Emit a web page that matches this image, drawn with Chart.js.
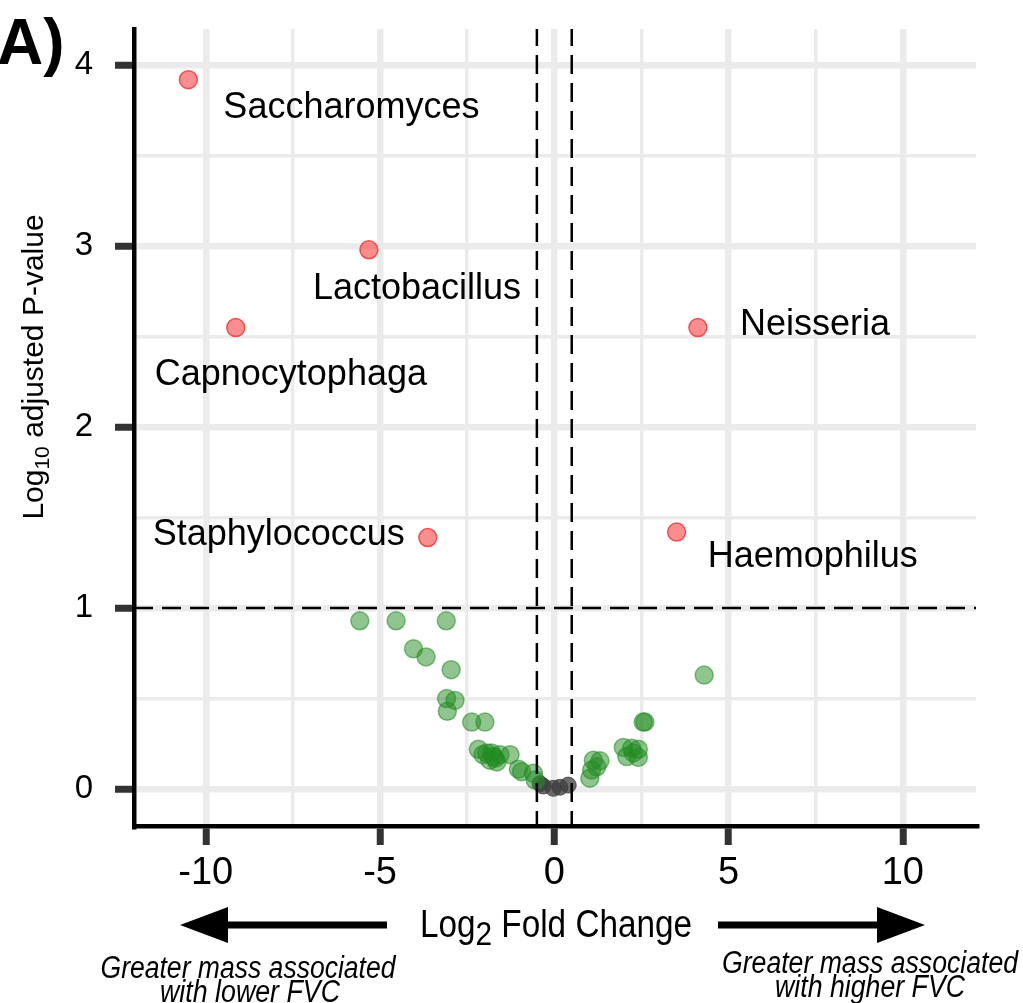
<!DOCTYPE html>
<html>
<head>
<meta charset="utf-8">
<script src="https://cdn.jsdelivr.net/npm/chart.js@4.4.1/dist/chart.umd.min.js"></script>
<style>
  html, body { margin: 0; padding: 0; background: #fff; }
  #wrap { width: 1023px; height: 1003px; position: relative; }
</style>
</head>
<body>
<div id="wrap"><canvas id="volcano" width="1023" height="1003"></canvas></div>
<script>
// genera passing the adjusted p-value cut-off
const sigGenus = ['Saccharomyces', 'Lactobacillus', 'Capnocytophaga', 'Staphylococcus', 'Neisseria', 'Haemophilus'];
const sigLogFC = [-10.5, -5.32, -9.14, -3.63, 4.12, 3.51];
const sigLogP = [3.92, 2.98, 2.55, 1.39, 2.55, 1.42];

// fold change past the cut-off but not significant
const trendLogFC = [-5.58, -4.54, -3.10, -4.04, -3.68, -2.96, -3.09, -2.85, -3.07, -2.37, -1.99,
  -2.18, -1.94, -1.75, -1.56, -1.27, -1.65, -1.85, -2.05, -1.80, -1.70, -1.03, -0.94, -0.60, -0.55,
  1.02, 1.07, 1.12, 1.22, 1.31, 1.98, 2.08, 2.22, 2.27, 2.41, 2.41, 2.55, 2.60, 4.30];
const trendLogP = [0.93, 0.93, 0.93, 0.775, 0.73, 0.66, 0.50, 0.49, 0.43, 0.37, 0.37,
  0.22, 0.20, 0.18, 0.19, 0.19, 0.15, 0.16, 0.19, 0.20, 0.17, 0.11, 0.096, 0.087, 0.05,
  0.06, 0.105, 0.16, 0.123, 0.156, 0.23, 0.18, 0.225, 0.20, 0.22, 0.175, 0.37, 0.37, 0.63];

// inside the fold-change band
const nsLogFC = [-0.41, -0.32, -0.03, 0.16, 0.40];
const nsLogP = [0.03, 0.017, 0.004, 0.01, 0.022];

const xMajor = [-10, -5, 0, 5, 10];
const xMinor = [-7.5, -2.5, 2.5, 7.5];
const yMajor = [0, 1, 2, 3, 4];
const yMinor = [0.5, 1.5, 2.5, 3.5];

const pCut = 1;
const fcCut = 0.5;
const xRange = [-12.06, 12.1];
const yRange = [-0.204, 4.2];

// label placement relative to its point: [dx, dy, align]
const labelNudge = [[35, 38, 'left'], [-56, 49, 'left'], [-81, 57, 'left'], [-23, 7, 'right'], [42, 7, 'left'], [31, 35, 'left']];

const SANS = '"Liberation Sans", Arial, sans-serif';
const NARROW = '"Liberation Sans Narrow", "Liberation Sans", Arial, sans-serif';

const pts = (xs, ys) => xs.map((x, i) => ({ x, y: ys[i] }));

const gridTicks = (major, minor) => (axis) => {
  axis.ticks = [...major, ...minor].sort((a, b) => a - b).map((v) => ({ value: v }));
};

// draws text squeezed horizontally to a given width
function fitText(ctx, text, x, y, width, align) {
  const w = ctx.measureText(text).width;
  const k = width / w;
  ctx.save();
  ctx.translate(x, y);
  ctx.scale(k, 1);
  ctx.textAlign = align || 'center';
  ctx.fillText(text, 0, 0);
  ctx.restore();
}

function arrow(ctx, from, to, y) {
  const dir = Math.sign(to - from);
  const headLen = 48, half = 18, shaft = 7;
  ctx.beginPath();
  ctx.moveTo(from, y - shaft / 2);
  ctx.lineTo(to - dir * headLen, y - shaft / 2);
  ctx.lineTo(to - dir * headLen, y - half);
  ctx.lineTo(to, y);
  ctx.lineTo(to - dir * headLen, y + half);
  ctx.lineTo(to - dir * headLen, y + shaft / 2);
  ctx.lineTo(from, y + shaft / 2);
  ctx.closePath();
  ctx.fill();
}

const decorations = {
  id: 'decorations',
  afterDraw(chart) {
    const { ctx } = chart;
    const meta = chart.getDatasetMeta(0);
    ctx.save();
    ctx.fillStyle = '#000';
    ctx.textBaseline = 'alphabetic';

    // genus names
    ctx.font = `36px ${SANS}`;
    meta.data.forEach((pt, i) => {
      const [dx, dy, align] = labelNudge[i];
      ctx.textAlign = align;
      ctx.fillText(sigGenus[i], pt.x + dx, pt.y + dy);
    });

    // panel tag
    ctx.font = `bold 64px ${SANS}`;
    ctx.textAlign = 'left';
    ctx.fillText('A)', -3, 64);

    // y title with subscript, rotated
    ctx.save();
    ctx.translate(43, 367);
    ctx.rotate(-Math.PI / 2);
    ctx.font = `30px ${SANS}`;
    const a = 'Log', b = '10', c = ' adjusted P-value';
    const wa = ctx.measureText(a).width, wc = ctx.measureText(c).width;
    ctx.font = `21px ${SANS}`;
    const wb = ctx.measureText(b).width;
    const x0 = -(wa + wb + wc) / 2;
    ctx.textAlign = 'left';
    ctx.font = `30px ${SANS}`;
    ctx.fillText(a, x0, 0);
    ctx.font = `21px ${SANS}`;
    ctx.fillText(b, x0 + wa, 6);
    ctx.font = `30px ${SANS}`;
    ctx.fillText(c, x0 + wa + wb, 0);
    ctx.restore();

    // x title with subscript, squeezed like the tick labels
    ctx.save();
    ctx.font = `38px ${NARROW}`;
    const t1 = 'Log', t3 = ' Fold Change';
    const w1 = ctx.measureText(t1).width, w3 = ctx.measureText(t3).width;
    ctx.font = `34px ${NARROW}`;
    const w2 = ctx.measureText('2').width;
    const k = 272 / (w1 + w2 + w3);
    ctx.translate(556 - 136, 937);
    ctx.scale(k, 1);
    ctx.textAlign = 'left';
    ctx.font = `38px ${NARROW}`;
    ctx.fillText(t1, 0, 0);
    ctx.font = `34px ${NARROW}`;
    ctx.fillText('2', w1, 8);
    ctx.font = `38px ${NARROW}`;
    ctx.fillText(t3, w1 + w2, 0);
    ctx.restore();

    // direction arrows
    arrow(ctx, 387, 180, 925);
    arrow(ctx, 718, 925, 925);

    // direction notes
    ctx.font = `italic 31px ${NARROW}`;
    fitText(ctx, 'Greater mass associated', 248, 978, 295);
    fitText(ctx, 'with lower FVC', 250, 1002, 180);
    fitText(ctx, 'Greater mass associated', 870, 973, 296);
    fitText(ctx, 'with higher FVC', 870, 997, 190);
    ctx.restore();
  }
};

const majorOf = (list) => (c) => list.includes(c.tick.value);

new Chart(document.getElementById('volcano'), {
  type: 'scatter',
  data: {
    datasets: [
      {
        label: 'significant',
        data: pts(sigLogFC, sigLogP),
        backgroundColor: 'rgba(245, 50, 50, 0.55)',
        borderColor: 'rgba(235, 30, 30, 0.7)',
        borderWidth: 1.5,
        pointRadius: 9,
        order: 2
      },
      {
        label: 'trend',
        data: pts(trendLogFC, trendLogP),
        backgroundColor: 'rgba(34, 139, 34, 0.5)',
        borderColor: 'rgba(34, 139, 34, 0.55)',
        borderWidth: 1.5,
        pointRadius: 9,
        order: 2
      },
      {
        label: 'ns',
        data: pts(nsLogFC, nsLogP),
        backgroundColor: 'rgba(60, 60, 60, 0.75)',
        borderColor: 'rgba(60, 60, 60, 0.75)',
        borderWidth: 1,
        pointRadius: 8,
        order: 2
      },
      {
        type: 'line',
        data: [{ x: xRange[0], y: pCut }, { x: xRange[1], y: pCut }],
        borderColor: '#000', borderWidth: 2.5, borderDash: [19, 9],
        pointRadius: 0, order: 1
      },
      {
        type: 'line',
        data: [{ x: -fcCut, y: yRange[0] }, { x: -fcCut, y: yRange[1] }],
        borderColor: '#000', borderWidth: 2.5, borderDash: [19, 9], borderDashOffset: 4,
        pointRadius: 0, order: 1
      },
      {
        type: 'line',
        data: [{ x: fcCut, y: yRange[0] }, { x: fcCut, y: yRange[1] }],
        borderColor: '#000', borderWidth: 2.5, borderDash: [19, 9], borderDashOffset: 4,
        pointRadius: 0, order: 1
      }
    ]
  },
  options: {
    responsive: false,
    animation: false,
    devicePixelRatio: 1,
    layout: { padding: { top: 29, right: 47, left: 0, bottom: 0 } },
    plugins: { legend: { display: false }, tooltip: { enabled: false } },
    scales: {
      x: {
        type: 'linear',
        min: xRange[0],
        max: xRange[1],
        afterBuildTicks: gridTicks(xMajor, xMinor),
        afterFit: (s) => { s.height = 177; s.paddingLeft = 0; s.paddingRight = 0; },
        ticks: {
          autoSkip: false,
          maxRotation: 0,
          padding: 6,
          color: '#000',
          font: { family: NARROW, size: 38 },
          callback: (v) => (xMajor.includes(v) ? String(v) : '')
        },
        grid: {
          color: '#ebebeb',
          lineWidth: (c) => (majorOf(xMajor)(c) ? 6.5 : 3.5),
          tickColor: (c) => (majorOf(xMajor)(c) ? '#333' : 'rgba(0,0,0,0)'),
          tickWidth: 7,
          tickLength: 19
        },
        border: { display: true, color: '#000', width: 4.5 }
      },
      y: {
        type: 'linear',
        min: yRange[0],
        max: yRange[1],
        afterBuildTicks: gridTicks(yMajor, yMinor),
        afterFit: (s) => { s.width = 134; s.paddingTop = 0; s.paddingBottom = 0; },
        ticks: {
          autoSkip: false,
          padding: 22,
          color: '#000',
          font: { family: SANS, size: 33 },
          callback: (v) => (yMajor.includes(v) ? String(v) : '')
        },
        grid: {
          color: '#ebebeb',
          lineWidth: (c) => (majorOf(yMajor)(c) ? 6.5 : 3.5),
          tickColor: (c) => (majorOf(yMajor)(c) ? '#333' : 'rgba(0,0,0,0)'),
          tickWidth: 7,
          tickLength: 19
        },
        border: { display: true, color: '#000', width: 4.5 }
      }
    }
  },
  plugins: [decorations]
});
</script>
</body>
</html>
